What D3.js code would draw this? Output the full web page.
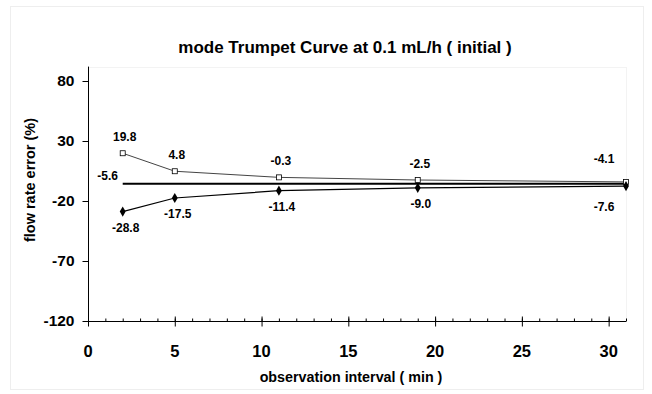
<!DOCTYPE html>
<html><head><meta charset="utf-8">
<script src="https://cdn.jsdelivr.net/npm/d3@7"></script>
<style>body{margin:0;background:#fff}svg{display:block}text{font-family:"Liberation Sans",Arial,sans-serif;font-weight:bold}</style>
</head><body><svg id="c" width="652" height="394"></svg>
<script>
const intervals = [2, 5, 11, 19, 31];
const maxErr = [19.8, 4.8, -0.3, -2.5, -4.1];
const minErr = [-28.8, -17.5, -11.4, -9.0, -7.6];
const meanErr = -5.6;
const yTicks = [-120, -70, -20, 30, 80];
const xTicks = [0, 5, 10, 15, 20, 25, 30];

const svg = d3.select("#c");
const x = d3.scaleLinear().domain([0, 31]).range([88, 626]);
const y = d3.scaleLinear().domain([-120, 80]).range([321, 81]);

svg.append("rect").attr("x", 10.5).attr("y", 6.5).attr("width", 633).attr("height", 383)
  .attr("fill", "none").attr("stroke", "#eee");
svg.append("rect").attr("x", 88.5).attr("y", 67.5).attr("width", 538).attr("height", 254)
  .attr("fill", "none").attr("stroke", "#f3f3f3");

svg.append("text").attr("x", 345).attr("y", 53).attr("text-anchor", "middle")
  .attr("font-size", 17).text("mode Trumpet Curve at 0.1 mL/h ( initial )");

// y axis
const yAxis = svg.append("g").attr("transform", "translate(88.5,0)")
  .call(d3.axisLeft(y).tickValues(yTicks).tickFormat(d => String(d)).tickSize(6).tickPadding(8));
yAxis.select(".domain").attr("d", `M0,${y(-120)}V${y(92)}`).attr("stroke", "#000");
yAxis.selectAll("text").attr("font-size", 15.5).attr("font-weight", "bold")
  .attr("font-family", '"Liberation Sans",Arial,sans-serif').attr("fill", "#000");

// x axis
const xg = svg.append("g").attr("transform", `translate(0,${y(-120) + 0.5})`);
xg.append("line").attr("x1", x(0)).attr("x2", x(31)).attr("stroke", "#000");
xg.selectAll(".minor").data(d3.range(1, 32)).join("line")
  .attr("x1", d => x(d) + 0.5).attr("x2", d => x(d) + 0.5).attr("y1", 0).attr("y2", -3).attr("stroke", "#000");
xg.selectAll(".major").data(xTicks).join("line")
  .attr("x1", d => x(d) + 0.5).attr("x2", d => x(d) + 0.5).attr("y1", -5).attr("y2", 5).attr("stroke", "#000");
xg.selectAll(".lbl").data(xTicks).join("text")
  .attr("x", d => x(d)).attr("y", 35).attr("text-anchor", "middle").attr("font-size", 16.5).text(d => d);

svg.append("text").attr("x", 351).attr("y", 382).attr("text-anchor", "middle")
  .attr("font-size", 14.3).text("observation interval ( min )");
svg.append("text").attr("transform", "translate(35,180) rotate(-90)").attr("text-anchor", "middle")
  .attr("font-size", 14.5).text("flow rate error (%)");

const line = d3.line().x(d => x(d[0])).y(d => y(d[1]));
const maxPts = intervals.map((d, i) => [d, maxErr[i]]);
const minPts = intervals.map((d, i) => [d, minErr[i]]);

svg.append("path").attr("d", line(maxPts)).attr("fill", "none").attr("stroke", "#444").attr("stroke-width", 1);
svg.append("path").attr("d", line(minPts)).attr("fill", "none").attr("stroke", "#000").attr("stroke-width", 1.2);
svg.append("path").attr("d", line([[intervals[0], meanErr], [intervals[intervals.length - 1], meanErr]]))
  .attr("fill", "none").attr("stroke", "#000").attr("stroke-width", 2);

svg.selectAll(".sq").data(maxPts).join("rect")
  .attr("x", d => x(d[0]) - 2.5).attr("y", d => y(d[1]) - 2.5).attr("width", 5).attr("height", 5)
  .attr("fill", "#fff").attr("stroke", "#000").attr("stroke-width", 0.8);
svg.selectAll(".dm").data(minPts).join("path")
  .attr("d", d3.symbol(d3.symbolDiamond, 30))
  .attr("transform", d => `translate(${x(d[0])},${y(d[1])})`).attr("fill", "#000");

const last = intervals.length - 1;
svg.selectAll(".ul").data(maxPts).join("text")
  .attr("x", (d, i) => x(d[0]) + (i === last ? -22 : 2))
  .attr("y", (d, i) => y(d[1]) - (i === last ? 19 : 12))
  .attr("text-anchor", "middle").attr("font-size", 12).text(d => d[1].toFixed(1));
svg.selectAll(".ll").data(minPts).join("text")
  .attr("x", (d, i) => x(d[0]) + (i === last ? -22 : 3))
  .attr("y", (d, i) => y(d[1]) + (i === last ? 25 : 20))
  .attr("text-anchor", "middle").attr("font-size", 12).text(d => d[1].toFixed(1));
svg.append("text").attr("x", x(intervals[0]) - 15).attr("y", y(meanErr) - 4)
  .attr("text-anchor", "middle").attr("font-size", 12).text(meanErr.toFixed(1));
</script></body></html>
